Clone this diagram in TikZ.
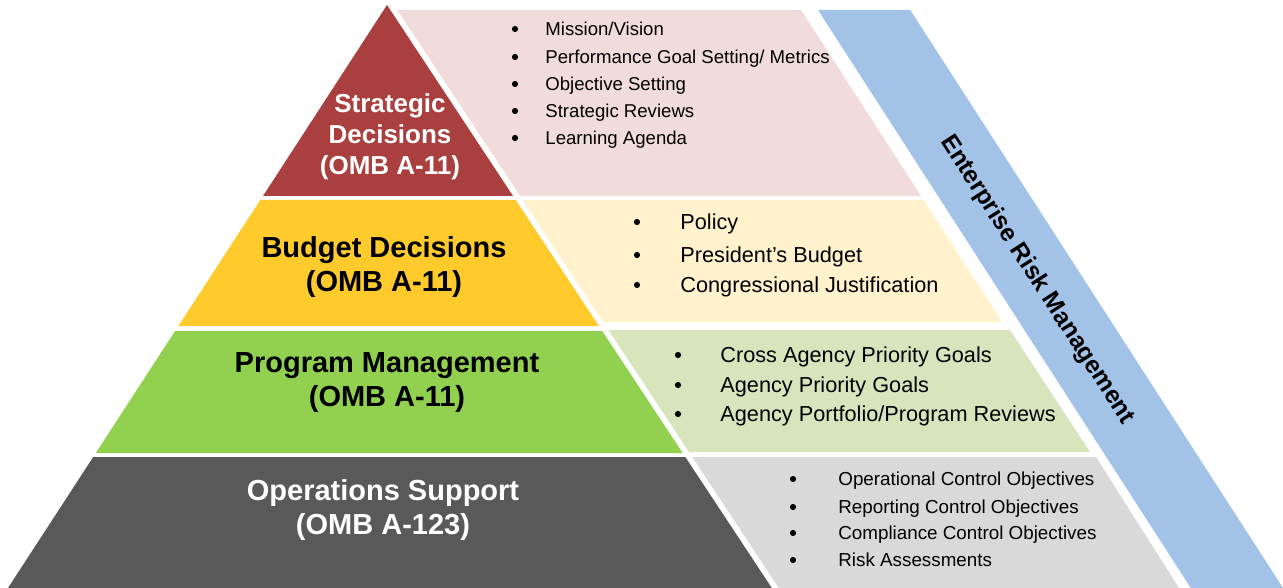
\documentclass[tikz,border=0pt]{standalone}
\usepackage{fontspec}
\setmainfont{Liberation Sans}
\definecolor{redT}{HTML}{A9403F}
\definecolor{pinkP}{HTML}{F2DCDB}
\definecolor{yelT}{HTML}{FECA2C}
\definecolor{yelP}{HTML}{FFF2CC}
\definecolor{grnT}{HTML}{92D050}
\definecolor{grnP}{HTML}{D8E4BC}
\definecolor{gryT}{HTML}{595959}
\definecolor{gryP}{HTML}{D9D9D9}
\definecolor{bandB}{HTML}{A2C2E7}
\tikzset{
  tierlabel/.style={align=center, font=\bfseries\fontsize{14.5}{17}\selectfont, inner sep=0pt},
  itemA/.style={anchor=base west, inner sep=0pt, font=\fontsize{9.3}{11}\selectfont},
  itemB/.style={anchor=base west, inner sep=0pt, font=\fontsize{10.85}{13}\selectfont},
  itemC/.style={anchor=base west, inner sep=0pt, font=\fontsize{9.4}{11}\selectfont},
  dot/.style={circle, fill=black, inner sep=0pt, minimum size=3.1pt}
}
\begin{document}
\begin{tikzpicture}[x=0.5pt,y=-0.5pt]
\useasboundingbox (0,0) rectangle (1283,588);
% band
\fill[bandB] (818,10) -- (910.2,10) -- (1283,588) -- (1190.8,588) -- cycle;
% pyramid tiers
\fill[redT] (387,5) -- (513,196) -- (263,196) -- cycle;
\fill[yelT] (260.3,200) -- (515.7,200) -- (598.9,326) -- (178.4,326) -- cycle;
\fill[grnT] (175.1,331) -- (602.2,331) -- (682.7,453) -- (95.8,453) -- cycle;
\fill[gryT] (93.2,457) -- (685.3,457) -- (771.8,588) -- (8,588) -- cycle;
% panels
\fill[pinkP] (397.3,10) -- (801,10) -- (921,196) -- (520.1,196) -- cycle;
\fill[yelP] (522.7,200) -- (923.5,200) -- (1002.2,322) -- (603.2,322) -- cycle;
\fill[grnP] (608.5,330) -- (1010,330) -- (1090,452) -- (689,452) -- cycle;
\fill[gryP] (692.3,457) -- (1096,457) -- (1179,588) -- (778.8,588) -- cycle;
% tier labels
\node[tierlabel, text=white, font=\bfseries\fontsize{13}{15.5}\selectfont] (strat) at (390,137) {Strategic\\Decisions\\(OMB A-11)};
\node[tierlabel, text=black] (budget) at (384,267) {Budget Decisions\\(OMB A-11)};
\node[tierlabel, text=black] (prog) at (387,383) {Program Management\\(OMB A-11)};
\node[tierlabel, text=white] (ops) at (383,510) {Operations Support\\(OMB A-123)};
% strategic items
\node[dot] (sd1) at (515,29) {}; \node[itemA] (s1) at (545,35.7) {Mission/Vision};
\node[dot] (sd2) at (515,57) {}; \node[itemA] (s2) at (545,63.7) {Performance Goal Setting/ Metrics};
\node[dot] (sd3) at (515,84) {}; \node[itemA] (s3) at (545,90.7) {Objective Setting};
\node[dot] (sd4) at (515,111) {}; \node[itemA] (s4) at (545,117.7) {Strategic Reviews};
\node[dot] (sd5) at (515,138) {}; \node[itemA] (s5) at (545,144.7) {Learning Agenda};
% budget items
\node[dot] (bd1) at (637,222) {}; \node[itemB] (b1) at (680,229.8) {Policy};
\node[dot] (bd2) at (637,255) {}; \node[itemB] (b2) at (680,262.8) {President’s Budget};
\node[dot] (bd3) at (637,285) {}; \node[itemB] (b3) at (680,292.8) {Congressional Justification};
% program items
\node[dot] (pd1) at (678,355) {}; \node[itemB] (p1) at (720,362.8) {Cross Agency Priority Goals};
\node[dot] (pd2) at (678,385) {}; \node[itemB] (p2) at (720,392.8) {Agency Priority Goals};
\node[dot] (pd3) at (678,414) {}; \node[itemB] (p3) at (720,421.8) {Agency Portfolio/Program Reviews};
% operations items
\node[dot] (od1) at (793,479) {}; \node[itemC] (o1) at (838,485.8) {Operational Control Objectives};
\node[dot] (od2) at (793,507) {}; \node[itemC] (o2) at (838,513.8) {Reporting Control Objectives};
\node[dot] (od3) at (793,533) {}; \node[itemC] (o3) at (838,539.8) {Compliance Control Objectives};
\node[dot] (od4) at (793,560) {}; \node[itemC] (o4) at (838,566.8) {Risk Assessments};
% band label
\node[rotate=-57.2, font=\bfseries\fontsize{12.3}{14}\selectfont, inner sep=0pt] (erm) at (1037,280) {Enterprise Risk Management};
\end{tikzpicture}
\end{document}
